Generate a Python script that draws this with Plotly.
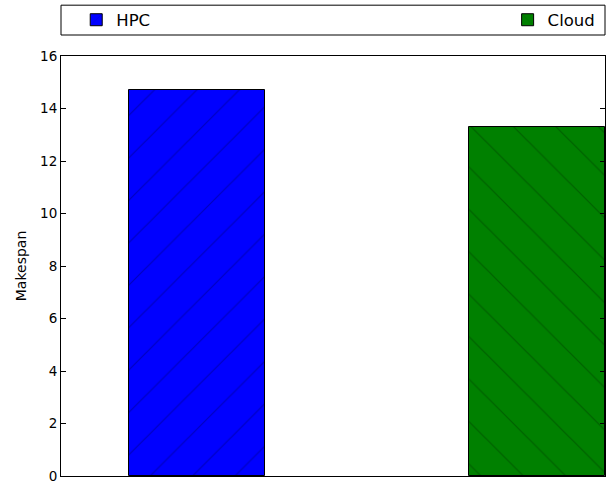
import plotly.graph_objects as go

# data
platforms = ["HPC", "Cloud"]
makespan = [14.72, 13.28]
bar_pos = [0.5, 1.75]
bar_colors = ["#0000ff", "#008000"]
hatches = ["/", "\\"]
y_ticks = [0, 2, 4, 6, 8, 10, 12, 14, 16]

W, H = 608, 482

fig = go.Figure()
for i, (name, pos, val, col, hatch) in enumerate(zip(platforms, bar_pos, makespan, bar_colors, hatches)):
    fig.add_bar(x=[pos], y=[val], name=name, width=0.5,
                legend="legend" if i == 0 else "legend2",
                marker=dict(color=col, line=dict(color="black", width=1),
                            pattern=dict(shape=hatch, size=30, solidity=0.04,
                                         fgcolor="rgba(0,0,0,0.5)", fillmode="overlay")))

leg_style = dict(yref="container", y=1 - 20 / H, yanchor="middle", xanchor="left",
                 bgcolor="rgba(0,0,0,0)", borderwidth=0, font=dict(size=16.5))

fig.update_layout(
    width=W, height=H,
    margin=dict(l=61, r=3, t=56, b=6, autoexpand=False),
    plot_bgcolor="white", paper_bgcolor="white",
    font=dict(family="DejaVu Sans", size=13.5, color="black"),
    showlegend=True,
    legend=dict(x=0.028, **leg_style),
    legend2=dict(x=0.821, **leg_style),
    bargap=0,
    # legend frame like matplotlib's (spans the axes width)
    shapes=[dict(type="rect", xref="paper", yref="paper", x0=0, x1=1, y0=1.05, y1=1.121,
                 line=dict(color="black", width=1), fillcolor="rgba(0,0,0,0)", layer="below")],
)
fig.update_xaxes(range=[0, 2], showticklabels=False, ticks="", showgrid=False,
                 zeroline=False, showline=True, linecolor="black", linewidth=1, mirror=True)
fig.update_yaxes(range=[0, 16], tickvals=y_ticks, ticks="inside", ticklen=5,
                 tickcolor="black", showgrid=False, zeroline=False, showline=True,
                 linecolor="black", linewidth=1, mirror="ticks", ticklabeloverflow="allow",
                 title=dict(text="Makespan", font=dict(size=14), standoff=10))

# drop the default body margin so the figure sits at the window corner
fig.write_html("out.html", config={"displayModeBar": False},
               post_script="document.body.style.margin='0';")
